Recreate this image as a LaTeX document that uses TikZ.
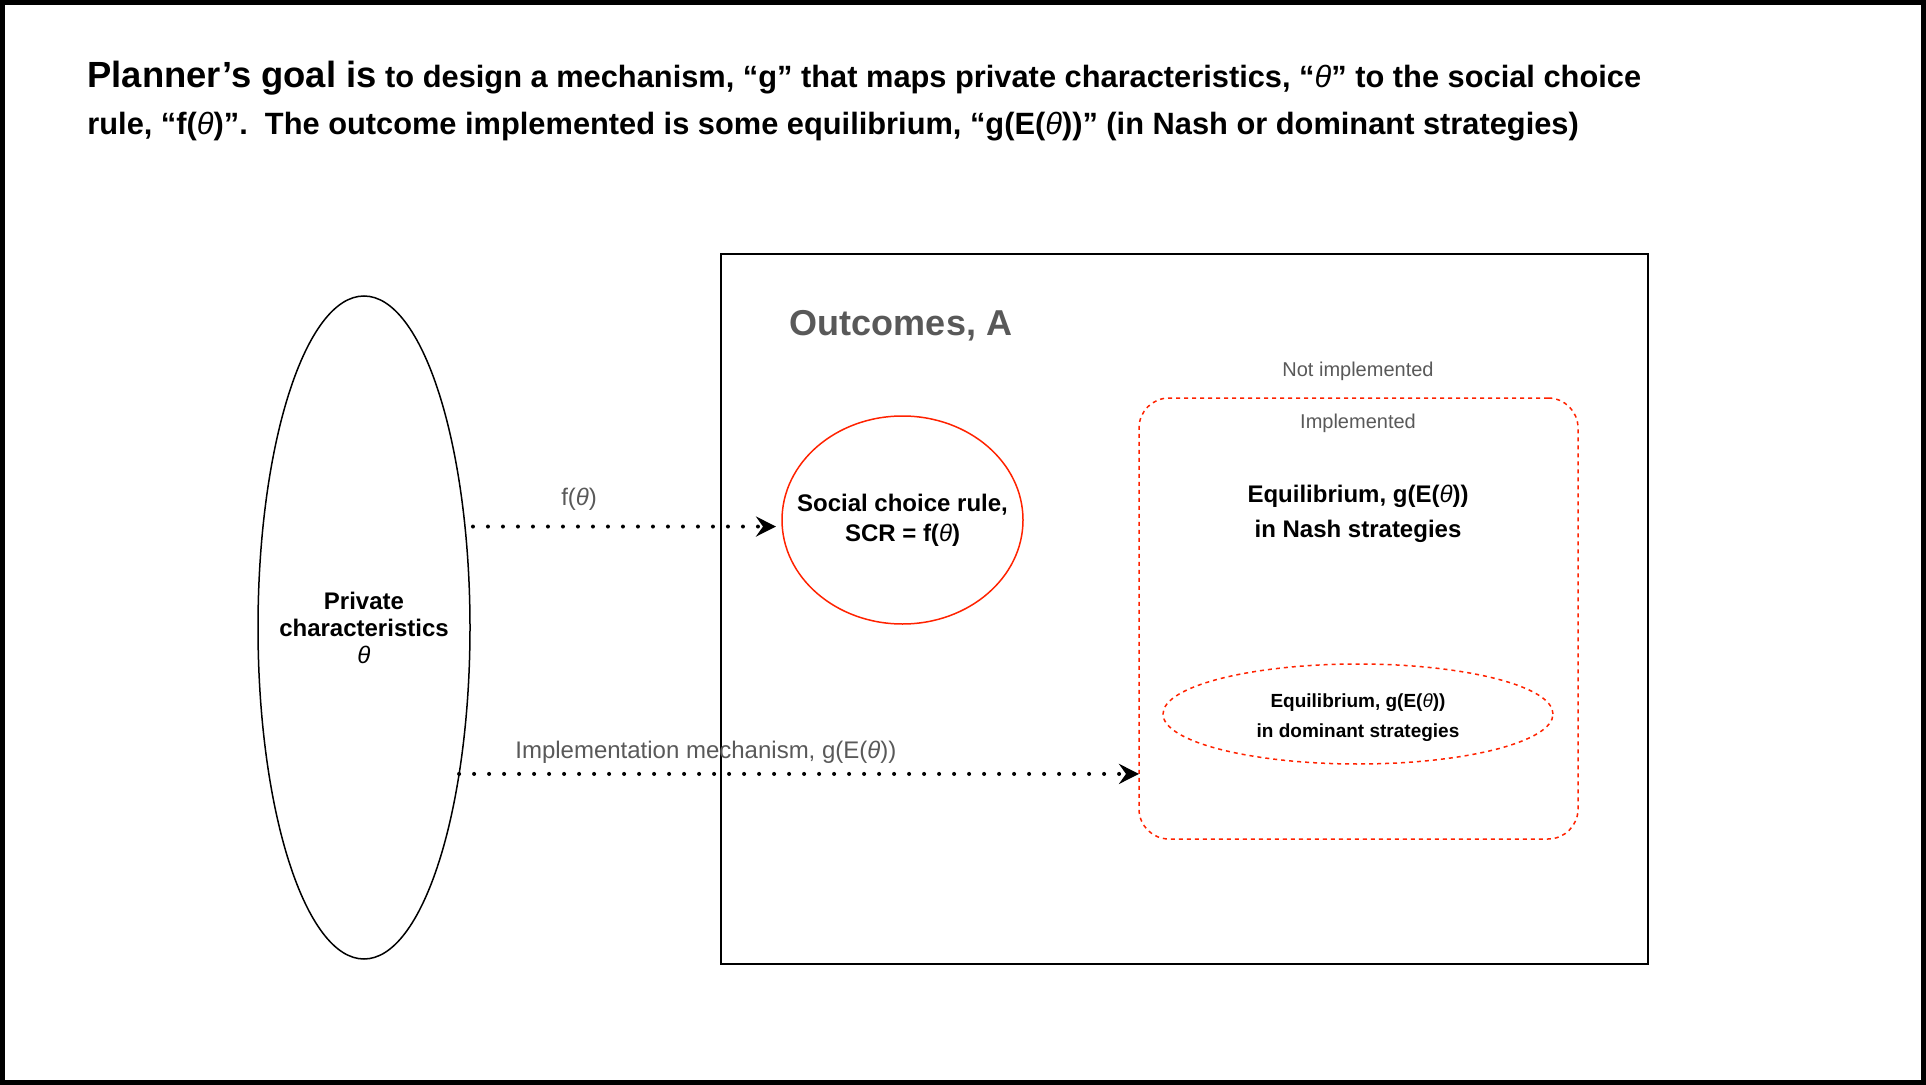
\documentclass[tikz,border=0pt]{standalone}
\usepackage{fontspec}
\setmainfont{Liberation Sans}
\usepackage{xcolor}
\usepackage{tikz}
\usetikzlibrary{arrows.meta, positioning, shapes.geometric}
\definecolor{labelgray}{HTML}{595959}
\definecolor{rulered}{HTML}{FF2200}
\newcommand{\thet}{\textit{θ}}

\begin{document}
\begin{tikzpicture}[
  x=0.5pt, y=-0.5pt,
  frame/.style={line width=2.5pt},
  region/.style={draw, line width=1pt, inner sep=0pt, outer sep=0pt},
  blob/.style={ellipse, draw, line width=0.75pt, inner sep=0pt, outer sep=0pt},
  redblob/.style={blob, draw=rulered},
  dashblob/.style={blob, draw=rulered, dash pattern=on 2pt off 2pt},
  implbox/.style={
    draw=rulered, line width=0.75pt, dash pattern=on 2pt off 2pt,
    rounded corners=15pt, inner sep=0pt, outer sep=0pt},
  dots/.style={
    -{Stealth[length=10pt, width=10pt, inset=3.5pt]}, line width=2pt,
    dash pattern=on 0pt off 7.5pt, line cap=round},
  txt/.style={align=center, inner sep=0pt},
  lbl/.style={font=\fontsize{12}{14}\selectfont, text=labelgray, inner sep=0pt},
  small/.style={font=\fontsize{10}{12}\selectfont, text=labelgray, inner sep=0pt},
  hdr/.style={font=\fontsize{18}{20}\selectfont\bfseries, text=labelgray, inner sep=0pt},
]
  \useasboundingbox (0,0) rectangle (1926,1085);
  \draw[frame] (2.5,2.5) rectangle (1923.5,1082.5);

  %% Title
  \node[anchor=north west, align=left, inner sep=0pt,
    font=\fontsize{15.4}{23.5}\selectfont\bfseries] (goal) at (87,61)
    {{\fontsize{18.2}{23.5}\selectfont Planner’s goal is} to design a mechanism,
     “g” that maps private characteristics, “\textmd{\thet}” to the social choice\\
     rule, “f(\textmd{\thet})”.\ \ The outcome implemented is some equilibrium,
     “g(E(\textmd{\thet}))” (in Nash or dominant strategies)};

  %% Private characteristics
  \node[blob, minimum width=106pt, minimum height=331.5pt,
    label={[txt, font=\fontsize{12}{13.5}\selectfont\bfseries]center:Private\\characteristics\\\textmd{\thet}}]
    (priv) at (364,627.5) {};

  %% Outcomes
  \node[region, minimum width=463.5pt, minimum height=355pt] (outc) at (1184.5,609) {};
  \node[hdr] (outlbl) at (901,326) {Outcomes, A};

  \node[redblob, minimum width=120.5pt, minimum height=104pt,
    label={[txt, font=\fontsize{12}{15}\selectfont\bfseries]center:Social choice rule,\\SCR = f(\textmd{\thet})}]
    (scr) at (902.5,520) {};

  %% Implemented region
  \node[implbox, minimum width=219.5pt, minimum height=220.5pt] (impl) at (1358.5,618.5) {};
  \node[small] (notimpl) at (1358,371) {Not implemented};
  \node[small] (implt) at (1358,423) {Implemented};
  \node[txt, font=\fontsize{12}{17.8}\selectfont\bfseries] (nash) at (1358,514)
    {Equilibrium, g(E(\textmd{\thet}))\\in Nash strategies};
  \node[dashblob, minimum width=195pt, minimum height=50pt,
    label={[txt, yshift=-2pt, font=\fontsize{9.5}{15}\selectfont\bfseries]center:Equilibrium, g(E(\textmd{\thet}))\\in dominant strategies}]
    (dom) at (1358,714) {};

  %% Mappings
  \draw[dots, shorten <=4pt, shorten >=3pt] (priv.45.5) --
    node[lbl, pos=0.36, yshift=13.5pt] {f(\thet)} (priv.45.5 -| scr.west);
  \draw[dots] (priv.-57.5) --
    node[lbl, pos=0.363, yshift=11pt] {Implementation mechanism, g(E(\thet))} (priv.-57.5 -| impl.west);
\end{tikzpicture}
\end{document}
